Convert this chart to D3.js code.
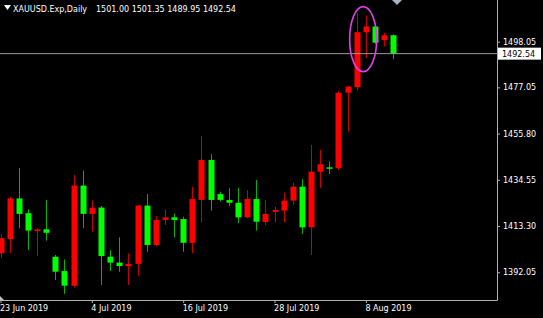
<!DOCTYPE html>
<html>
<head>
<meta charset="utf-8">
<script src="https://cdn.jsdelivr.net/npm/d3@7"></script>
<style>
  body { margin: 0; background: #000; }
  text { font-family: "DejaVu Sans", sans-serif; font-size: 8px; fill: #fff; }
</style>
</head>
<body>
<div id="chart"></div>
<script>
// Daily bars, Sunday bars included (index 0 = 23 Jun 2019)
const symbol = "XAUUSD.Exp,Daily";
const open  = [1400.8, 1407.3, 1426.0, 1419.2, 1411.0, 1411.8, 1399.2, 1392.6, 1385.9, 1431.9,
               1418.9, 1421.8, 1399.2, 1396.5, 1394.9, 1395.9, 1422.7, 1404.6, 1416.1, 1417.3,
               1416.5, 1405.6, 1425.3, 1443.7, 1428.0, 1425.3, 1424.0, 1417.3, 1425.7, 1415.2,
               1419.8, 1420.4, 1425.0, 1431.4, 1412.7, 1438.3, 1440.3, 1439.9, 1474.6, 1477.1,
               1502.4, 1505.0, 1498.8, 1501.00];
const high  = [1409.6, 1426.7, 1439.9, 1421.0, 1412.2, 1425.3, 1400.0, 1397.9, 1436.8, 1438.8,
               1425.1, 1422.5, 1402.3, 1408.1, 1400.7, 1423.0, 1428.0, 1417.8, 1421.0, 1419.1,
               1417.6, 1431.4, 1454.7, 1446.4, 1429.1, 1430.7, 1430.9, 1429.9, 1434.5, 1425.3,
               1422.1, 1428.6, 1433.2, 1434.8, 1450.6, 1448.3, 1442.9, 1475.2, 1477.7, 1511.1,
               1510.1, 1505.5, 1502.1, 1501.35];
const low   = [1398.6, 1400.9, 1412.3, 1402.3, 1399.5, 1406.6, 1388.5, 1382.1, 1385.1, 1412.3,
               1410.7, 1386.2, 1392.6, 1392.3, 1386.2, 1390.3, 1401.5, 1404.1, 1413.8, 1408.1,
               1401.5, 1400.8, 1414.9, 1420.4, 1424.5, 1422.5, 1414.6, 1416.9, 1411.2, 1413.8,
               1414.9, 1414.9, 1423.0, 1409.7, 1400.0, 1430.7, 1437.2, 1439.1, 1456.7, 1475.5,
               1490.4, 1497.0, 1495.8, 1489.95];
const close = [1407.7, 1426.0, 1418.9, 1411.2, 1411.7, 1410.2, 1392.3, 1385.9, 1431.9, 1418.9,
               1421.7, 1399.5, 1396.5, 1394.9, 1395.9, 1422.7, 1404.6, 1416.1, 1417.3, 1416.1,
               1405.6, 1425.7, 1443.7, 1425.3, 1425.3, 1424.0, 1417.3, 1425.7, 1415.3, 1418.9,
               1420.7, 1425.0, 1431.4, 1412.7, 1438.3, 1441.7, 1439.7, 1474.6, 1477.4, 1502.4,
               1505.0, 1497.6, 1501.0, 1492.54];

const dateTickBars = [0, 10, 20, 30, 40];
const dateTickLabels = ["23 Jun 2019", "4 Jul 2019", "16 Jul 2019", "28 Jul 2019", "8 Aug 2019"];
const priceTicks = [1392.05, 1413.30, 1434.55, 1455.80, 1477.05, 1498.05];
// pink ellipse drawn around the top (bar position, price of its centre)
const ellipseAt = { bar: 39.7, price: 1499.2 };

const bars = open.map((o, i) => ({ i, o, h: high[i], l: low[i], c: close[i] }));
const last = bars[bars.length - 1];

const W = 543, H = 318;
const plotRight = 497, plotBottom = 300;

const svg = d3.select("#chart")
    .append("svg")
    .attr("width", W)
    .attr("height", H);

svg.append("rect").attr("width", W).attr("height", H).attr("fill", "#000");

const x = d3.scaleLinear()
    .domain([0, bars.length - 1])
    .range([0.5, 393.3]);

const y = d3.scaleLinear()
    .domain([1379.3, 1517.2])
    .range([plotBottom, 0]);

const bodyW = 6;

// candles: red = up, green = down
const candle = svg.append("g").selectAll("g")
    .data(bars)
    .enter().append("g");

candle.append("line")
    .attr("x1", d => Math.round(x(d.i)) + 0.5)
    .attr("x2", d => Math.round(x(d.i)) + 0.5)
    .attr("y1", d => y(d.h))
    .attr("y2", d => y(d.l))
    .attr("stroke", d => d.c >= d.o ? "#c80000" : "#00b400")
    .attr("stroke-width", 1);

candle.append("rect")
    .attr("x", d => Math.round(x(d.i)) + 0.5 - bodyW / 2)
    .attr("y", d => y(Math.max(d.o, d.c)))
    .attr("width", bodyW)
    .attr("height", d => Math.max(1.5, Math.abs(y(d.o) - y(d.c))))
    .attr("fill", d => d.c >= d.o ? "#ff0000" : "#00ff00");

// current price line
svg.append("line")
    .attr("x1", 0).attr("x2", plotRight)
    .attr("y1", y(last.c)).attr("y2", y(last.c))
    .attr("stroke", "#9a9a9a")
    .attr("stroke-width", 1);

// pink ellipse
svg.append("ellipse")
    .attr("cx", x(ellipseAt.bar))
    .attr("cy", y(ellipseAt.price))
    .attr("rx", 13.5)
    .attr("ry", 32.5)
    .attr("fill", "none")
    .attr("stroke", "#e040e8")
    .attr("stroke-width", 1.6);

// price axis on the right
const yAxis = svg.append("g")
    .attr("transform", `translate(${plotRight},0)`)
    .call(d3.axisRight(y).tickValues(priceTicks).tickSize(3).tickPadding(3)
        .tickFormat(d3.format(".2f")));
yAxis.select(".domain").attr("stroke", "#b0b0b0").attr("d", `M0.5,0V${plotBottom + 0.5}`);
yAxis.selectAll(".tick line").attr("stroke", "#b0b0b0");
yAxis.selectAll(".tick text").attr("fill", "#fff").style("font-size", "8px")
    .style("font-family", "DejaVu Sans, sans-serif");

// time axis at the bottom
const xAxis = svg.append("g")
    .attr("transform", `translate(0,${plotBottom})`)
    .call(d3.axisBottom(x).tickValues(dateTickBars).tickSize(3)
        .tickFormat((d, k) => dateTickLabels[k]));
xAxis.select(".domain").attr("stroke", "#b0b0b0").attr("d", `M0,0.5H${plotRight + 0.5}`);
xAxis.selectAll(".tick line").attr("stroke", "#b0b0b0");
xAxis.selectAll(".tick text")
    .attr("fill", "#fff")
    .attr("text-anchor", "start")
    .attr("x", -1)
    .attr("y", 5)
    .attr("dy", "0.71em")
    .style("font-size", "8px")
    .style("font-family", "DejaVu Sans, sans-serif");

// last price label
const lp = svg.append("g").attr("transform", `translate(${plotRight + 1},${y(last.c)})`);
lp.append("rect").attr("x", 0).attr("y", -6).attr("width", 43).attr("height", 12).attr("fill", "#fff");
lp.append("text").attr("x", 4).attr("y", 3).style("fill", "#000").text(last.c.toFixed(2));

// header
svg.append("path")
    .attr("d", "M4,5H11L7.5,10Z")
    .attr("fill", "#fff");
svg.append("text").attr("x", 13).attr("y", 12).text(symbol);
svg.append("text").attr("x", 96).attr("y", 12)
    .text([last.o, last.h, last.l, last.c].map(v => v.toFixed(2)).join(" "));

// chart shift marker and scroll marker
svg.append("path")
    .attr("d", "M392,0H402L397,5Z")
    .attr("fill", "#a8b0c0");
svg.append("path")
    .attr("d", `M0,${plotBottom - 4}L4,${plotBottom}H0Z`)
    .attr("fill", "#c0c0c0");
</script>
</body>
</html>
